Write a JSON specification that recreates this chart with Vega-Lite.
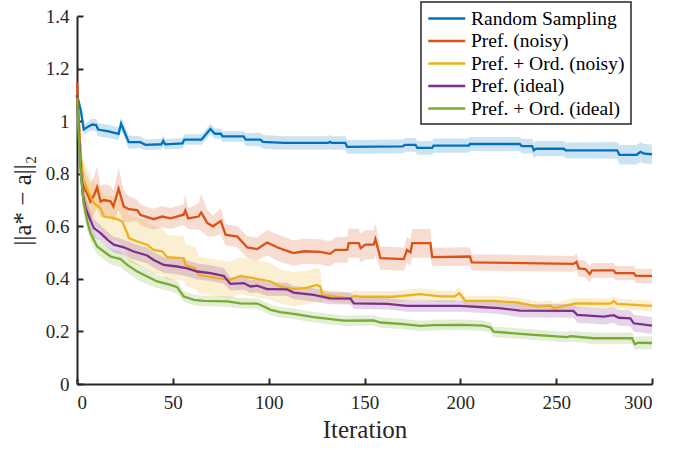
{
  "$schema": "https://vega.github.io/schema/vega-lite/v6.json",
  "width": 575,
  "height": 368,
  "autosize": {"type": "none"},
  "padding": {"left": 77, "top": 16, "right": 42, "bottom": 66},
  "background": "white",
  "config": {
    "view": {"stroke": null},
    "font": "Liberation Serif",
    "axis": {
      "grid": false,
      "ticks": true,
      "domainColor": "#262626",
      "domainWidth": 2,
      "tickColor": "#262626",
      "tickWidth": 2,
      "tickSize": -6
    },
    "legend": {
      "labelColor": "#000000",
      "strokeColor": "#262626",
      "strokeWidth": 1.5,
      "fillColor": "white",
      "padding": 6
    }
  },
  "data": {
    "values": [
      {"s": "Random Sampling", "x": 0, "y": 1.10, "lo": 1.09, "hi": 1.11},
      {"s": "Random Sampling", "x": 2, "y": 1.04, "lo": 1.02, "hi": 1.06},
      {"s": "Random Sampling", "x": 3.5, "y": 0.968, "lo": 0.948, "hi": 0.988},
      {"s": "Random Sampling", "x": 6, "y": 0.98, "lo": 0.96, "hi": 1.0},
      {"s": "Random Sampling", "x": 8, "y": 0.987, "lo": 0.965, "hi": 1.009},
      {"s": "Random Sampling", "x": 10, "y": 0.985, "lo": 0.962, "hi": 1.008},
      {"s": "Random Sampling", "x": 11, "y": 0.968, "lo": 0.943, "hi": 0.993},
      {"s": "Random Sampling", "x": 16.5, "y": 0.961, "lo": 0.936, "hi": 0.986},
      {"s": "Random Sampling", "x": 21.7, "y": 0.952, "lo": 0.927, "hi": 0.977},
      {"s": "Random Sampling", "x": 23, "y": 0.99, "lo": 0.965, "hi": 1.015},
      {"s": "Random Sampling", "x": 25, "y": 0.955, "lo": 0.93, "hi": 0.98},
      {"s": "Random Sampling", "x": 27, "y": 0.92, "lo": 0.895, "hi": 0.945},
      {"s": "Random Sampling", "x": 33, "y": 0.92, "lo": 0.897, "hi": 0.943},
      {"s": "Random Sampling", "x": 35.7, "y": 0.91, "lo": 0.89, "hi": 0.93},
      {"s": "Random Sampling", "x": 44, "y": 0.912, "lo": 0.892, "hi": 0.932},
      {"s": "Random Sampling", "x": 45, "y": 0.925, "lo": 0.905, "hi": 0.945},
      {"s": "Random Sampling", "x": 46, "y": 0.912, "lo": 0.892, "hi": 0.932},
      {"s": "Random Sampling", "x": 55, "y": 0.915, "lo": 0.895, "hi": 0.935},
      {"s": "Random Sampling", "x": 56, "y": 0.93, "lo": 0.91, "hi": 0.95},
      {"s": "Random Sampling", "x": 65, "y": 0.93, "lo": 0.91, "hi": 0.95},
      {"s": "Random Sampling", "x": 69.6, "y": 0.97, "lo": 0.95, "hi": 0.99},
      {"s": "Random Sampling", "x": 72, "y": 0.952, "lo": 0.932, "hi": 0.972},
      {"s": "Random Sampling", "x": 75, "y": 0.952, "lo": 0.932, "hi": 0.972},
      {"s": "Random Sampling", "x": 76, "y": 0.942, "lo": 0.922, "hi": 0.962},
      {"s": "Random Sampling", "x": 87, "y": 0.942, "lo": 0.922, "hi": 0.962},
      {"s": "Random Sampling", "x": 88, "y": 0.93, "lo": 0.905, "hi": 0.955},
      {"s": "Random Sampling", "x": 95.7, "y": 0.93, "lo": 0.904, "hi": 0.956},
      {"s": "Random Sampling", "x": 97, "y": 0.921, "lo": 0.895, "hi": 0.947},
      {"s": "Random Sampling", "x": 108, "y": 0.917, "lo": 0.891, "hi": 0.943},
      {"s": "Random Sampling", "x": 131, "y": 0.917, "lo": 0.891, "hi": 0.943},
      {"s": "Random Sampling", "x": 132, "y": 0.921, "lo": 0.895, "hi": 0.947},
      {"s": "Random Sampling", "x": 133, "y": 0.917, "lo": 0.891, "hi": 0.943},
      {"s": "Random Sampling", "x": 140, "y": 0.917, "lo": 0.891, "hi": 0.943},
      {"s": "Random Sampling", "x": 141, "y": 0.902, "lo": 0.876, "hi": 0.928},
      {"s": "Random Sampling", "x": 170, "y": 0.904, "lo": 0.878, "hi": 0.93},
      {"s": "Random Sampling", "x": 171, "y": 0.91, "lo": 0.884, "hi": 0.936},
      {"s": "Random Sampling", "x": 176.6, "y": 0.91, "lo": 0.884, "hi": 0.936},
      {"s": "Random Sampling", "x": 177.5, "y": 0.898, "lo": 0.872, "hi": 0.924},
      {"s": "Random Sampling", "x": 185.3, "y": 0.898, "lo": 0.872, "hi": 0.924},
      {"s": "Random Sampling", "x": 186, "y": 0.907, "lo": 0.88, "hi": 0.934},
      {"s": "Random Sampling", "x": 204.4, "y": 0.907, "lo": 0.88, "hi": 0.934},
      {"s": "Random Sampling", "x": 205, "y": 0.913, "lo": 0.886, "hi": 0.94},
      {"s": "Random Sampling", "x": 231, "y": 0.913, "lo": 0.886, "hi": 0.94},
      {"s": "Random Sampling", "x": 232, "y": 0.905, "lo": 0.877, "hi": 0.933},
      {"s": "Random Sampling", "x": 237.5, "y": 0.905, "lo": 0.877, "hi": 0.933},
      {"s": "Random Sampling", "x": 238.3, "y": 0.889, "lo": 0.86, "hi": 0.918},
      {"s": "Random Sampling", "x": 239.5, "y": 0.895, "lo": 0.866, "hi": 0.924},
      {"s": "Random Sampling", "x": 254, "y": 0.895, "lo": 0.866, "hi": 0.924},
      {"s": "Random Sampling", "x": 255, "y": 0.889, "lo": 0.859, "hi": 0.919},
      {"s": "Random Sampling", "x": 281.8, "y": 0.889, "lo": 0.857, "hi": 0.921},
      {"s": "Random Sampling", "x": 283, "y": 0.872, "lo": 0.835, "hi": 0.909},
      {"s": "Random Sampling", "x": 292, "y": 0.872, "lo": 0.835, "hi": 0.909},
      {"s": "Random Sampling", "x": 294, "y": 0.883, "lo": 0.846, "hi": 0.92},
      {"s": "Random Sampling", "x": 296, "y": 0.876, "lo": 0.839, "hi": 0.913},
      {"s": "Random Sampling", "x": 300, "y": 0.874, "lo": 0.837, "hi": 0.911},

      {"s": "Pref. (noisy)", "x": 0, "y": 1.15, "lo": 1.14, "hi": 1.16},
      {"s": "Pref. (noisy)", "x": 1, "y": 1.0, "lo": 0.95, "hi": 1.05},
      {"s": "Pref. (noisy)", "x": 2, "y": 0.85, "lo": 0.77, "hi": 0.93},
      {"s": "Pref. (noisy)", "x": 3, "y": 0.76, "lo": 0.68, "hi": 0.84},
      {"s": "Pref. (noisy)", "x": 4, "y": 0.74, "lo": 0.67, "hi": 0.81},
      {"s": "Pref. (noisy)", "x": 5, "y": 0.73, "lo": 0.66, "hi": 0.80},
      {"s": "Pref. (noisy)", "x": 7, "y": 0.694, "lo": 0.624, "hi": 0.764},
      {"s": "Pref. (noisy)", "x": 9, "y": 0.72, "lo": 0.65, "hi": 0.79},
      {"s": "Pref. (noisy)", "x": 10.5, "y": 0.749, "lo": 0.669, "hi": 0.829},
      {"s": "Pref. (noisy)", "x": 12.3, "y": 0.694, "lo": 0.634, "hi": 0.754},
      {"s": "Pref. (noisy)", "x": 14, "y": 0.70, "lo": 0.64, "hi": 0.76},
      {"s": "Pref. (noisy)", "x": 17.5, "y": 0.695, "lo": 0.635, "hi": 0.755},
      {"s": "Pref. (noisy)", "x": 19, "y": 0.675, "lo": 0.615, "hi": 0.735},
      {"s": "Pref. (noisy)", "x": 21.7, "y": 0.743, "lo": 0.663, "hi": 0.823},
      {"s": "Pref. (noisy)", "x": 24.4, "y": 0.675, "lo": 0.615, "hi": 0.735},
      {"s": "Pref. (noisy)", "x": 27, "y": 0.665, "lo": 0.615, "hi": 0.715},
      {"s": "Pref. (noisy)", "x": 31.4, "y": 0.662, "lo": 0.622, "hi": 0.702},
      {"s": "Pref. (noisy)", "x": 33, "y": 0.644, "lo": 0.604, "hi": 0.684},
      {"s": "Pref. (noisy)", "x": 40, "y": 0.627, "lo": 0.587, "hi": 0.667},
      {"s": "Pref. (noisy)", "x": 44.4, "y": 0.637, "lo": 0.597, "hi": 0.677},
      {"s": "Pref. (noisy)", "x": 48.8, "y": 0.63, "lo": 0.59, "hi": 0.67},
      {"s": "Pref. (noisy)", "x": 55.6, "y": 0.644, "lo": 0.604, "hi": 0.684},
      {"s": "Pref. (noisy)", "x": 56.5, "y": 0.66, "lo": 0.60, "hi": 0.72},
      {"s": "Pref. (noisy)", "x": 58, "y": 0.63, "lo": 0.59, "hi": 0.67},
      {"s": "Pref. (noisy)", "x": 63.4, "y": 0.637, "lo": 0.587, "hi": 0.687},
      {"s": "Pref. (noisy)", "x": 64.8, "y": 0.653, "lo": 0.583, "hi": 0.723},
      {"s": "Pref. (noisy)", "x": 68, "y": 0.612, "lo": 0.562, "hi": 0.662},
      {"s": "Pref. (noisy)", "x": 71, "y": 0.60, "lo": 0.56, "hi": 0.64},
      {"s": "Pref. (noisy)", "x": 75, "y": 0.62, "lo": 0.57, "hi": 0.67},
      {"s": "Pref. (noisy)", "x": 77.5, "y": 0.568, "lo": 0.528, "hi": 0.608},
      {"s": "Pref. (noisy)", "x": 83.6, "y": 0.561, "lo": 0.521, "hi": 0.601},
      {"s": "Pref. (noisy)", "x": 88.8, "y": 0.52, "lo": 0.478, "hi": 0.562},
      {"s": "Pref. (noisy)", "x": 94, "y": 0.513, "lo": 0.47, "hi": 0.556},
      {"s": "Pref. (noisy)", "x": 96.6, "y": 0.526, "lo": 0.48, "hi": 0.572},
      {"s": "Pref. (noisy)", "x": 99.2, "y": 0.538, "lo": 0.49, "hi": 0.586},
      {"s": "Pref. (noisy)", "x": 104.4, "y": 0.52, "lo": 0.47, "hi": 0.57},
      {"s": "Pref. (noisy)", "x": 108, "y": 0.51, "lo": 0.46, "hi": 0.56},
      {"s": "Pref. (noisy)", "x": 113, "y": 0.498, "lo": 0.45, "hi": 0.546},
      {"s": "Pref. (noisy)", "x": 118.3, "y": 0.505, "lo": 0.457, "hi": 0.553},
      {"s": "Pref. (noisy)", "x": 127, "y": 0.503, "lo": 0.455, "hi": 0.551},
      {"s": "Pref. (noisy)", "x": 132, "y": 0.495, "lo": 0.447, "hi": 0.543},
      {"s": "Pref. (noisy)", "x": 134.8, "y": 0.51, "lo": 0.462, "hi": 0.558},
      {"s": "Pref. (noisy)", "x": 141, "y": 0.51, "lo": 0.46, "hi": 0.56},
      {"s": "Pref. (noisy)", "x": 141.8, "y": 0.536, "lo": 0.48, "hi": 0.592},
      {"s": "Pref. (noisy)", "x": 147, "y": 0.536, "lo": 0.48, "hi": 0.592},
      {"s": "Pref. (noisy)", "x": 148, "y": 0.517, "lo": 0.462, "hi": 0.572},
      {"s": "Pref. (noisy)", "x": 150.5, "y": 0.53, "lo": 0.475, "hi": 0.585},
      {"s": "Pref. (noisy)", "x": 154.8, "y": 0.53, "lo": 0.475, "hi": 0.585},
      {"s": "Pref. (noisy)", "x": 155.7, "y": 0.551, "lo": 0.49, "hi": 0.612},
      {"s": "Pref. (noisy)", "x": 158.3, "y": 0.479, "lo": 0.435, "hi": 0.523},
      {"s": "Pref. (noisy)", "x": 170.5, "y": 0.475, "lo": 0.431, "hi": 0.519},
      {"s": "Pref. (noisy)", "x": 172.2, "y": 0.51, "lo": 0.46, "hi": 0.56},
      {"s": "Pref. (noisy)", "x": 174, "y": 0.50, "lo": 0.45, "hi": 0.55},
      {"s": "Pref. (noisy)", "x": 174.9, "y": 0.536, "lo": 0.48, "hi": 0.59},
      {"s": "Pref. (noisy)", "x": 184.4, "y": 0.536, "lo": 0.48, "hi": 0.59},
      {"s": "Pref. (noisy)", "x": 185.3, "y": 0.483, "lo": 0.448, "hi": 0.518},
      {"s": "Pref. (noisy)", "x": 205, "y": 0.485, "lo": 0.45, "hi": 0.52},
      {"s": "Pref. (noisy)", "x": 206, "y": 0.463, "lo": 0.432, "hi": 0.494},
      {"s": "Pref. (noisy)", "x": 259, "y": 0.457, "lo": 0.427, "hi": 0.487},
      {"s": "Pref. (noisy)", "x": 260.6, "y": 0.465, "lo": 0.433, "hi": 0.497},
      {"s": "Pref. (noisy)", "x": 261.8, "y": 0.44, "lo": 0.408, "hi": 0.472},
      {"s": "Pref. (noisy)", "x": 265.3, "y": 0.437, "lo": 0.405, "hi": 0.469},
      {"s": "Pref. (noisy)", "x": 267.5, "y": 0.418, "lo": 0.386, "hi": 0.45},
      {"s": "Pref. (noisy)", "x": 268.7, "y": 0.432, "lo": 0.404, "hi": 0.46},
      {"s": "Pref. (noisy)", "x": 280, "y": 0.432, "lo": 0.404, "hi": 0.46},
      {"s": "Pref. (noisy)", "x": 281, "y": 0.422, "lo": 0.395, "hi": 0.449},
      {"s": "Pref. (noisy)", "x": 290.5, "y": 0.422, "lo": 0.395, "hi": 0.449},
      {"s": "Pref. (noisy)", "x": 291.5, "y": 0.411, "lo": 0.384, "hi": 0.438},
      {"s": "Pref. (noisy)", "x": 300, "y": 0.411, "lo": 0.384, "hi": 0.438},

      {"s": "Pref. + Ord. (noisy)", "x": 0, "y": 1.10, "lo": 1.09, "hi": 1.11},
      {"s": "Pref. + Ord. (noisy)", "x": 1, "y": 0.98, "lo": 0.93, "hi": 1.03},
      {"s": "Pref. + Ord. (noisy)", "x": 2, "y": 0.86, "lo": 0.79, "hi": 0.93},
      {"s": "Pref. + Ord. (noisy)", "x": 3, "y": 0.79, "lo": 0.72, "hi": 0.86},
      {"s": "Pref. + Ord. (noisy)", "x": 4, "y": 0.766, "lo": 0.696, "hi": 0.836},
      {"s": "Pref. + Ord. (noisy)", "x": 6, "y": 0.73, "lo": 0.65, "hi": 0.81},
      {"s": "Pref. + Ord. (noisy)", "x": 8.8, "y": 0.688, "lo": 0.608, "hi": 0.768},
      {"s": "Pref. + Ord. (noisy)", "x": 12.3, "y": 0.669, "lo": 0.589, "hi": 0.749},
      {"s": "Pref. + Ord. (noisy)", "x": 14, "y": 0.637, "lo": 0.557, "hi": 0.717},
      {"s": "Pref. + Ord. (noisy)", "x": 19.2, "y": 0.631, "lo": 0.546, "hi": 0.716},
      {"s": "Pref. + Ord. (noisy)", "x": 21.8, "y": 0.625, "lo": 0.54, "hi": 0.71},
      {"s": "Pref. + Ord. (noisy)", "x": 23.6, "y": 0.618, "lo": 0.528, "hi": 0.708},
      {"s": "Pref. + Ord. (noisy)", "x": 26.2, "y": 0.574, "lo": 0.484, "hi": 0.664},
      {"s": "Pref. + Ord. (noisy)", "x": 27, "y": 0.555, "lo": 0.465, "hi": 0.645},
      {"s": "Pref. + Ord. (noisy)", "x": 31.4, "y": 0.542, "lo": 0.452, "hi": 0.632},
      {"s": "Pref. + Ord. (noisy)", "x": 36.6, "y": 0.53, "lo": 0.44, "hi": 0.62},
      {"s": "Pref. + Ord. (noisy)", "x": 40, "y": 0.51, "lo": 0.42, "hi": 0.60},
      {"s": "Pref. + Ord. (noisy)", "x": 44.4, "y": 0.505, "lo": 0.415, "hi": 0.595},
      {"s": "Pref. + Ord. (noisy)", "x": 47, "y": 0.483, "lo": 0.398, "hi": 0.568},
      {"s": "Pref. + Ord. (noisy)", "x": 55.7, "y": 0.478, "lo": 0.393, "hi": 0.563},
      {"s": "Pref. + Ord. (noisy)", "x": 56.6, "y": 0.453, "lo": 0.373, "hi": 0.533},
      {"s": "Pref. + Ord. (noisy)", "x": 61.8, "y": 0.44, "lo": 0.36, "hi": 0.52},
      {"s": "Pref. + Ord. (noisy)", "x": 63.5, "y": 0.415, "lo": 0.345, "hi": 0.485},
      {"s": "Pref. + Ord. (noisy)", "x": 73, "y": 0.403, "lo": 0.333, "hi": 0.473},
      {"s": "Pref. + Ord. (noisy)", "x": 80, "y": 0.396, "lo": 0.326, "hi": 0.466},
      {"s": "Pref. + Ord. (noisy)", "x": 85.3, "y": 0.411, "lo": 0.341, "hi": 0.481},
      {"s": "Pref. + Ord. (noisy)", "x": 94, "y": 0.40, "lo": 0.33, "hi": 0.47},
      {"s": "Pref. + Ord. (noisy)", "x": 101, "y": 0.39, "lo": 0.32, "hi": 0.46},
      {"s": "Pref. + Ord. (noisy)", "x": 106, "y": 0.371, "lo": 0.306, "hi": 0.436},
      {"s": "Pref. + Ord. (noisy)", "x": 113, "y": 0.361, "lo": 0.296, "hi": 0.426},
      {"s": "Pref. + Ord. (noisy)", "x": 120, "y": 0.367, "lo": 0.302, "hi": 0.432},
      {"s": "Pref. + Ord. (noisy)", "x": 125.3, "y": 0.377, "lo": 0.312, "hi": 0.442},
      {"s": "Pref. + Ord. (noisy)", "x": 127, "y": 0.37, "lo": 0.305, "hi": 0.435},
      {"s": "Pref. + Ord. (noisy)", "x": 127.9, "y": 0.339, "lo": 0.317, "hi": 0.361},
      {"s": "Pref. + Ord. (noisy)", "x": 142.7, "y": 0.326, "lo": 0.304, "hi": 0.348},
      {"s": "Pref. + Ord. (noisy)", "x": 144.4, "y": 0.335, "lo": 0.313, "hi": 0.357},
      {"s": "Pref. + Ord. (noisy)", "x": 148, "y": 0.332, "lo": 0.31, "hi": 0.354},
      {"s": "Pref. + Ord. (noisy)", "x": 165, "y": 0.332, "lo": 0.31, "hi": 0.354},
      {"s": "Pref. + Ord. (noisy)", "x": 179, "y": 0.342, "lo": 0.32, "hi": 0.364},
      {"s": "Pref. + Ord. (noisy)", "x": 189.6, "y": 0.333, "lo": 0.311, "hi": 0.355},
      {"s": "Pref. + Ord. (noisy)", "x": 197, "y": 0.333, "lo": 0.311, "hi": 0.355},
      {"s": "Pref. + Ord. (noisy)", "x": 199.5, "y": 0.345, "lo": 0.323, "hi": 0.367},
      {"s": "Pref. + Ord. (noisy)", "x": 202.7, "y": 0.316, "lo": 0.296, "hi": 0.336},
      {"s": "Pref. + Ord. (noisy)", "x": 217.4, "y": 0.316, "lo": 0.296, "hi": 0.336},
      {"s": "Pref. + Ord. (noisy)", "x": 229.6, "y": 0.31, "lo": 0.29, "hi": 0.33},
      {"s": "Pref. + Ord. (noisy)", "x": 240, "y": 0.295, "lo": 0.275, "hi": 0.315},
      {"s": "Pref. + Ord. (noisy)", "x": 247, "y": 0.298, "lo": 0.278, "hi": 0.318},
      {"s": "Pref. + Ord. (noisy)", "x": 248.7, "y": 0.288, "lo": 0.268, "hi": 0.308},
      {"s": "Pref. + Ord. (noisy)", "x": 260, "y": 0.307, "lo": 0.287, "hi": 0.327},
      {"s": "Pref. + Ord. (noisy)", "x": 278.3, "y": 0.306, "lo": 0.286, "hi": 0.326},
      {"s": "Pref. + Ord. (noisy)", "x": 280, "y": 0.315, "lo": 0.295, "hi": 0.335},
      {"s": "Pref. + Ord. (noisy)", "x": 281.8, "y": 0.305, "lo": 0.285, "hi": 0.325},
      {"s": "Pref. + Ord. (noisy)", "x": 300, "y": 0.297, "lo": 0.277, "hi": 0.317},

      {"s": "Pref. (ideal)", "x": 0, "y": 1.10, "lo": 1.09, "hi": 1.11},
      {"s": "Pref. (ideal)", "x": 1, "y": 0.95, "lo": 0.91, "hi": 0.99},
      {"s": "Pref. (ideal)", "x": 2, "y": 0.82, "lo": 0.77, "hi": 0.87},
      {"s": "Pref. (ideal)", "x": 3, "y": 0.72, "lo": 0.67, "hi": 0.77},
      {"s": "Pref. (ideal)", "x": 4.5, "y": 0.67, "lo": 0.63, "hi": 0.71},
      {"s": "Pref. (ideal)", "x": 6.2, "y": 0.637, "lo": 0.602, "hi": 0.672},
      {"s": "Pref. (ideal)", "x": 8.8, "y": 0.593, "lo": 0.558, "hi": 0.628},
      {"s": "Pref. (ideal)", "x": 12.3, "y": 0.574, "lo": 0.544, "hi": 0.604},
      {"s": "Pref. (ideal)", "x": 15.8, "y": 0.549, "lo": 0.519, "hi": 0.579},
      {"s": "Pref. (ideal)", "x": 19.2, "y": 0.53, "lo": 0.50, "hi": 0.56},
      {"s": "Pref. (ideal)", "x": 24.4, "y": 0.52, "lo": 0.49, "hi": 0.55},
      {"s": "Pref. (ideal)", "x": 29.6, "y": 0.504, "lo": 0.474, "hi": 0.534},
      {"s": "Pref. (ideal)", "x": 36.6, "y": 0.489, "lo": 0.459, "hi": 0.519},
      {"s": "Pref. (ideal)", "x": 40, "y": 0.472, "lo": 0.442, "hi": 0.502},
      {"s": "Pref. (ideal)", "x": 45.3, "y": 0.453, "lo": 0.423, "hi": 0.483},
      {"s": "Pref. (ideal)", "x": 52.3, "y": 0.447, "lo": 0.417, "hi": 0.477},
      {"s": "Pref. (ideal)", "x": 57.5, "y": 0.44, "lo": 0.41, "hi": 0.47},
      {"s": "Pref. (ideal)", "x": 62.7, "y": 0.428, "lo": 0.398, "hi": 0.458},
      {"s": "Pref. (ideal)", "x": 69.6, "y": 0.422, "lo": 0.392, "hi": 0.452},
      {"s": "Pref. (ideal)", "x": 76.6, "y": 0.411, "lo": 0.381, "hi": 0.441},
      {"s": "Pref. (ideal)", "x": 80, "y": 0.381, "lo": 0.356, "hi": 0.406},
      {"s": "Pref. (ideal)", "x": 87, "y": 0.384, "lo": 0.359, "hi": 0.409},
      {"s": "Pref. (ideal)", "x": 90.5, "y": 0.371, "lo": 0.346, "hi": 0.396},
      {"s": "Pref. (ideal)", "x": 94, "y": 0.374, "lo": 0.349, "hi": 0.399},
      {"s": "Pref. (ideal)", "x": 99.2, "y": 0.361, "lo": 0.336, "hi": 0.386},
      {"s": "Pref. (ideal)", "x": 102.7, "y": 0.361, "lo": 0.336, "hi": 0.386},
      {"s": "Pref. (ideal)", "x": 109.6, "y": 0.36, "lo": 0.335, "hi": 0.385},
      {"s": "Pref. (ideal)", "x": 113, "y": 0.348, "lo": 0.323, "hi": 0.373},
      {"s": "Pref. (ideal)", "x": 123.5, "y": 0.339, "lo": 0.314, "hi": 0.364},
      {"s": "Pref. (ideal)", "x": 132, "y": 0.326, "lo": 0.303, "hi": 0.349},
      {"s": "Pref. (ideal)", "x": 142.7, "y": 0.325, "lo": 0.302, "hi": 0.348},
      {"s": "Pref. (ideal)", "x": 144.4, "y": 0.307, "lo": 0.285, "hi": 0.329},
      {"s": "Pref. (ideal)", "x": 161.8, "y": 0.305, "lo": 0.283, "hi": 0.327},
      {"s": "Pref. (ideal)", "x": 172.2, "y": 0.297, "lo": 0.275, "hi": 0.319},
      {"s": "Pref. (ideal)", "x": 200, "y": 0.297, "lo": 0.275, "hi": 0.319},
      {"s": "Pref. (ideal)", "x": 212, "y": 0.292, "lo": 0.27, "hi": 0.314},
      {"s": "Pref. (ideal)", "x": 220, "y": 0.289, "lo": 0.266, "hi": 0.312},
      {"s": "Pref. (ideal)", "x": 231.3, "y": 0.279, "lo": 0.254, "hi": 0.304},
      {"s": "Pref. (ideal)", "x": 259, "y": 0.278, "lo": 0.252, "hi": 0.304},
      {"s": "Pref. (ideal)", "x": 261, "y": 0.263, "lo": 0.233, "hi": 0.293},
      {"s": "Pref. (ideal)", "x": 274.8, "y": 0.256, "lo": 0.226, "hi": 0.286},
      {"s": "Pref. (ideal)", "x": 280, "y": 0.262, "lo": 0.232, "hi": 0.292},
      {"s": "Pref. (ideal)", "x": 282.6, "y": 0.252, "lo": 0.222, "hi": 0.282},
      {"s": "Pref. (ideal)", "x": 288.7, "y": 0.25, "lo": 0.22, "hi": 0.28},
      {"s": "Pref. (ideal)", "x": 290.5, "y": 0.231, "lo": 0.199, "hi": 0.263},
      {"s": "Pref. (ideal)", "x": 300, "y": 0.222, "lo": 0.19, "hi": 0.254},

      {"s": "Pref. + Ord. (ideal)", "x": 0, "y": 1.09, "lo": 1.08, "hi": 1.10},
      {"s": "Pref. + Ord. (ideal)", "x": 1, "y": 0.93, "lo": 0.89, "hi": 0.97},
      {"s": "Pref. + Ord. (ideal)", "x": 2, "y": 0.80, "lo": 0.75, "hi": 0.85},
      {"s": "Pref. + Ord. (ideal)", "x": 3.5, "y": 0.69, "lo": 0.65, "hi": 0.73},
      {"s": "Pref. + Ord. (ideal)", "x": 5.3, "y": 0.62, "lo": 0.585, "hi": 0.655},
      {"s": "Pref. + Ord. (ideal)", "x": 7, "y": 0.574, "lo": 0.544, "hi": 0.604},
      {"s": "Pref. + Ord. (ideal)", "x": 10.5, "y": 0.523, "lo": 0.493, "hi": 0.553},
      {"s": "Pref. + Ord. (ideal)", "x": 14, "y": 0.504, "lo": 0.474, "hi": 0.534},
      {"s": "Pref. + Ord. (ideal)", "x": 17.5, "y": 0.485, "lo": 0.455, "hi": 0.515},
      {"s": "Pref. + Ord. (ideal)", "x": 22.7, "y": 0.475, "lo": 0.445, "hi": 0.505},
      {"s": "Pref. + Ord. (ideal)", "x": 26.2, "y": 0.453, "lo": 0.423, "hi": 0.483},
      {"s": "Pref. + Ord. (ideal)", "x": 31.4, "y": 0.428, "lo": 0.398, "hi": 0.458},
      {"s": "Pref. + Ord. (ideal)", "x": 36.6, "y": 0.409, "lo": 0.379, "hi": 0.439},
      {"s": "Pref. + Ord. (ideal)", "x": 41.8, "y": 0.39, "lo": 0.365, "hi": 0.415},
      {"s": "Pref. + Ord. (ideal)", "x": 48.8, "y": 0.377, "lo": 0.352, "hi": 0.402},
      {"s": "Pref. + Ord. (ideal)", "x": 52.3, "y": 0.368, "lo": 0.343, "hi": 0.393},
      {"s": "Pref. + Ord. (ideal)", "x": 55.7, "y": 0.333, "lo": 0.313, "hi": 0.353},
      {"s": "Pref. + Ord. (ideal)", "x": 61, "y": 0.32, "lo": 0.30, "hi": 0.34},
      {"s": "Pref. + Ord. (ideal)", "x": 66.1, "y": 0.316, "lo": 0.296, "hi": 0.336},
      {"s": "Pref. + Ord. (ideal)", "x": 78.4, "y": 0.314, "lo": 0.294, "hi": 0.334},
      {"s": "Pref. + Ord. (ideal)", "x": 85.3, "y": 0.307, "lo": 0.287, "hi": 0.327},
      {"s": "Pref. + Ord. (ideal)", "x": 94, "y": 0.306, "lo": 0.286, "hi": 0.326},
      {"s": "Pref. + Ord. (ideal)", "x": 97.5, "y": 0.295, "lo": 0.275, "hi": 0.315},
      {"s": "Pref. + Ord. (ideal)", "x": 101, "y": 0.282, "lo": 0.262, "hi": 0.302},
      {"s": "Pref. + Ord. (ideal)", "x": 106, "y": 0.273, "lo": 0.253, "hi": 0.293},
      {"s": "Pref. + Ord. (ideal)", "x": 113, "y": 0.267, "lo": 0.247, "hi": 0.287},
      {"s": "Pref. + Ord. (ideal)", "x": 123.5, "y": 0.254, "lo": 0.234, "hi": 0.274},
      {"s": "Pref. + Ord. (ideal)", "x": 139.2, "y": 0.241, "lo": 0.221, "hi": 0.261},
      {"s": "Pref. + Ord. (ideal)", "x": 154.8, "y": 0.242, "lo": 0.222, "hi": 0.262},
      {"s": "Pref. + Ord. (ideal)", "x": 158.3, "y": 0.234, "lo": 0.214, "hi": 0.254},
      {"s": "Pref. + Ord. (ideal)", "x": 168.8, "y": 0.229, "lo": 0.209, "hi": 0.249},
      {"s": "Pref. + Ord. (ideal)", "x": 179.2, "y": 0.221, "lo": 0.201, "hi": 0.241},
      {"s": "Pref. + Ord. (ideal)", "x": 186, "y": 0.224, "lo": 0.204, "hi": 0.244},
      {"s": "Pref. + Ord. (ideal)", "x": 200, "y": 0.225, "lo": 0.205, "hi": 0.245},
      {"s": "Pref. + Ord. (ideal)", "x": 212, "y": 0.222, "lo": 0.202, "hi": 0.242},
      {"s": "Pref. + Ord. (ideal)", "x": 215.7, "y": 0.215, "lo": 0.195, "hi": 0.235},
      {"s": "Pref. + Ord. (ideal)", "x": 217.4, "y": 0.199, "lo": 0.179, "hi": 0.219},
      {"s": "Pref. + Ord. (ideal)", "x": 238.3, "y": 0.187, "lo": 0.167, "hi": 0.207},
      {"s": "Pref. + Ord. (ideal)", "x": 255.7, "y": 0.178, "lo": 0.158, "hi": 0.198},
      {"s": "Pref. + Ord. (ideal)", "x": 257.4, "y": 0.182, "lo": 0.162, "hi": 0.202},
      {"s": "Pref. + Ord. (ideal)", "x": 269.6, "y": 0.174, "lo": 0.152, "hi": 0.196},
      {"s": "Pref. + Ord. (ideal)", "x": 289.6, "y": 0.174, "lo": 0.152, "hi": 0.196},
      {"s": "Pref. + Ord. (ideal)", "x": 291, "y": 0.152, "lo": 0.127, "hi": 0.177},
      {"s": "Pref. + Ord. (ideal)", "x": 293, "y": 0.157, "lo": 0.132, "hi": 0.182},
      {"s": "Pref. + Ord. (ideal)", "x": 300, "y": 0.156, "lo": 0.131, "hi": 0.181}
    ]
  },
  "encoding": {
    "x": {
      "field": "x",
      "type": "quantitative",
      "scale": {"domain": [0, 300], "nice": false, "zero": false},
      "axis": {
        "title": "Iteration",
        "values": [0, 50, 100, 150, 200, 250, 300],
        "format": "d",
        "labelFont": "Liberation Serif",
        "labelFontSize": 19,
        "labelColor": "#262626",
        "labelPadding": 15,
        "titleFont": "Liberation Serif",
        "titleFontSize": 25,
        "titleFontWeight": "normal",
        "titleColor": "#262626",
        "titlePadding": 5
      }
    },
    "color": {
      "field": "s",
      "type": "nominal",
      "scale": {
        "domain": ["Random Sampling", "Pref. (noisy)", "Pref. + Ord. (noisy)", "Pref. (ideal)", "Pref. + Ord. (ideal)"],
        "range": ["#0072BD", "#D95319", "#EDB120", "#7E2F8E", "#77AC30"]
      },
      "legend": {
        "title": null,
        "orient": "none",
        "legendX": 344,
        "legendY": -14,
        "symbolType": "M-1,0H3",
        "symbolSize": 342,
        "symbolStrokeWidth": 2.5,
        "symbolOpacity": 1,
        "symbolFillColor": "transparent",
        "labelOffset": 23,
        "rowPadding": 2.5,
        "labelFont": "Liberation Serif",
        "labelFontSize": 19.5
      }
    }
  },
  "layer": [
    {
      "mark": {"type": "area", "opacity": 0.2},
      "encoding": {
        "y": {"field": "lo", "type": "quantitative", "scale": {"domain": [0, 1.4], "nice": false}},
        "y2": {"field": "hi"}
      }
    },
    {
      "mark": {"type": "line", "strokeWidth": 2.3},
      "encoding": {
        "y": {
          "field": "y",
          "type": "quantitative",
          "scale": {"domain": [0, 1.4], "nice": false},
          "axis": {
            "title": "||a* − a||₂",
            "values": [0, 0.2, 0.4, 0.6, 0.8, 1, 1.2, 1.4],
            "labelExpr": "datum.value",
            "labelFont": "Liberation Serif",
            "labelFontSize": 19,
            "labelColor": "#262626",
            "labelPadding": 14,
            "titleFont": "Liberation Serif",
            "titleFontSize": 25,
            "titleFontWeight": "normal",
            "titleColor": "#262626",
            "titlePadding": 10
          }
        }
      }
    }
  ]
}
